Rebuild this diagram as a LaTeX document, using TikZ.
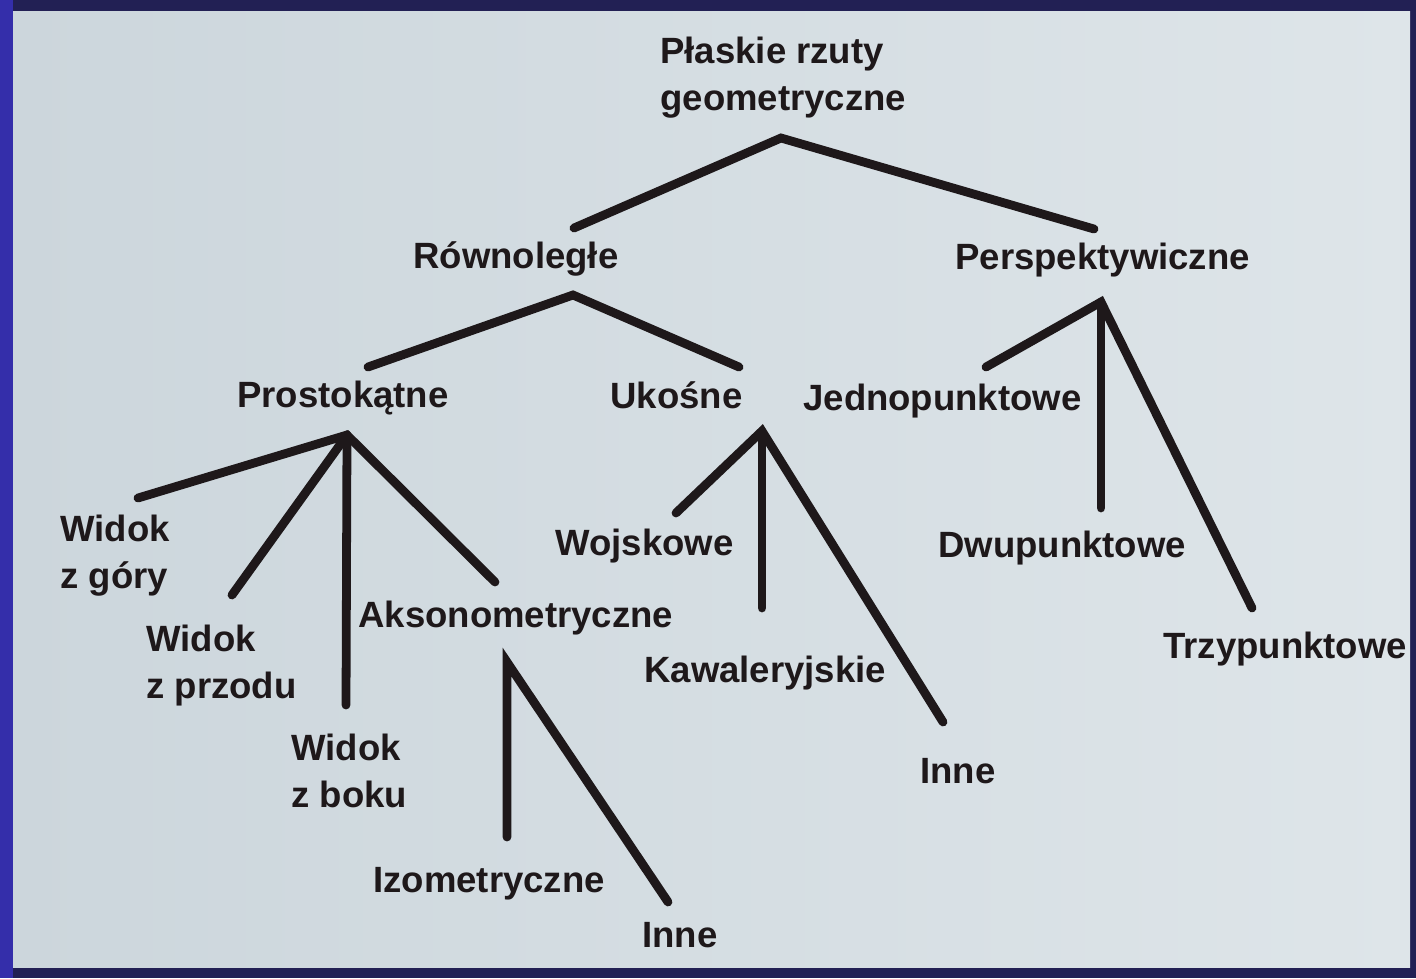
\documentclass[tikz,border=0pt]{standalone}
\usepackage{fontspec}
\setmainfont{Liberation Sans}

\definecolor{framenavy}{RGB}{34,32,84}
\definecolor{frameblue}{RGB}{52,46,170}
\definecolor{slidebgL}{RGB}{204,214,220}
\definecolor{slidebgR}{RGB}{222,229,233}
\definecolor{inkblack}{RGB}{30,24,26}

\begin{document}
\begin{tikzpicture}[x=0.02cm, y=-0.02cm,
termnode/.style={anchor=base west, inner sep=0pt, align=left, text=inkblack, font=\bfseries\fontsize{20.8}{26.7}\selectfont},
branch/.style={draw=inkblack, line width=5pt, line cap=round, line join=miter}
]
\useasboundingbox (0,0) rectangle (1416,978);
%Background
\fill[framenavy] (0,0) rectangle (1416,978);
\fill[frameblue] (0,0) rectangle (13,978);
\shade[left color=slidebgL, right color=slidebgR] (13,11) rectangle (1410,967);

%Nodes (two-line nodes sit on the baseline of their last line)
\node[termnode] at (660,110) (PLASKIE) {Płaskie rzuty\\geometryczne};
\node[termnode] at (413,268) (ROWNO) {Równoległe};
\node[termnode] at (955,269) (PERSP) {Perspektywiczne};
\node[termnode] at (237,407) (PROST) {Prostokątne};
\node[termnode] at (610,408) (UKOS) {Ukośne};
\node[termnode] at (803,410) (JEDNO) {Jednopunktowe};
\node[termnode] at (60,588) (GORY) {Widok\\z góry};
\node[termnode] at (146,698) (PRZOD) {Widok\\z przodu};
\node[termnode] at (291,807) (BOK) {Widok\\z boku};
\node[termnode] at (358,627) (AKSO) {Aksonometryczne};
\node[termnode] at (555,555) (WOJ) {Wojskowe};
\node[termnode] at (644,682) (KAW) {Kawaleryjskie};
\node[termnode] at (920,783) (INNE-1) {Inne};
\node[termnode] at (938,557) (DWU) {Dwupunktowe};
\node[termnode] at (1163,658) (TRZY) {Trzypunktowe};
\node[termnode] at (373,892) (IZO) {Izometryczne};
\node[termnode] at (642,947) (INNE-2) {Inne};

%Forks
\coordinate (PLASKIE-fork) at (781,138);
\coordinate (ROWNO-top) at (574,228);
\coordinate (PERSP-top) at (1094,229);
\coordinate (ROWNO-fork) at (573,295);
\coordinate (PROST-top) at (368,367);
\coordinate (UKOS-top) at (739,367);
\coordinate (PERSP-fork) at (1101,302);
\coordinate (JEDNO-top) at (986,367);
\coordinate (DWU-top) at (1101,508);
\coordinate (TRZY-top) at (1252,608);
\coordinate (PROST-fork) at (347,435);
\coordinate (GORY-top) at (138,498);
\coordinate (PRZOD-top) at (232,595);
\coordinate (BOK-top) at (346,705);
\coordinate (AKSO-top) at (495,582);
\coordinate (UKOS-fork) at (762,431);
\coordinate (WOJ-top) at (676,513);
\coordinate (KAW-top) at (762,608);
\coordinate (INNE-1-top) at (943,722);
\coordinate (AKSO-fork) at (507,662);
\coordinate (IZO-top) at (507,837);
\coordinate (INNE-2-top) at (668,902);

%Lines
\draw[branch] (ROWNO-top) -- (PLASKIE-fork) -- (PERSP-top);
\draw[branch] (PROST-top) -- (ROWNO-fork) -- (UKOS-top);
\draw[branch] (JEDNO-top) -- (PERSP-fork) -- (TRZY-top);
\draw[branch] (PERSP-fork) -- (DWU-top);
\draw[branch] (GORY-top) -- (PROST-fork) -- (AKSO-top);
\draw[branch] (PROST-fork) -- (PRZOD-top);
\draw[branch] (PROST-fork) -- (BOK-top);
\draw[branch] (WOJ-top) -- (UKOS-fork) -- (INNE-1-top);
\draw[branch] (UKOS-fork) -- (KAW-top);
\draw[branch] (IZO-top) -- (AKSO-fork) -- (INNE-2-top);
\end{tikzpicture}
\end{document}
